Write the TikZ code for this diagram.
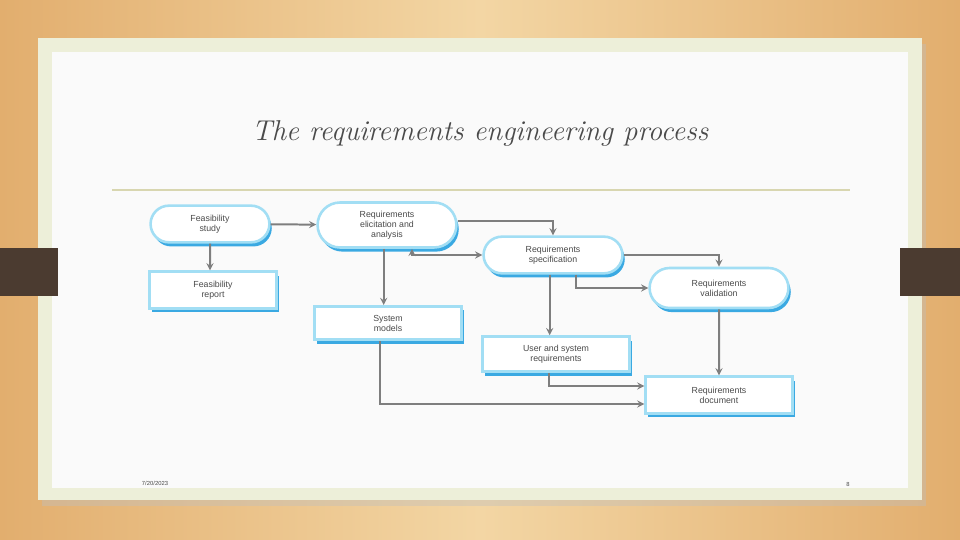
\documentclass[tikz,border=0pt]{standalone}
\usepackage{fontspec}
\newfontfamily\boxfont{Liberation Sans}
\usetikzlibrary{shapes.misc, shadows, arrows, positioning}
\definecolor{woodlight}{HTML}{F3D6A4}
\definecolor{wooddark}{HTML}{E2AE6E}
\definecolor{panelrim}{HTML}{EDEFD9}
\definecolor{panelbg}{HTML}{FAFAFA}
\definecolor{tabbrown}{HTML}{4B3B30}
\definecolor{rulecol}{HTML}{D8D6B0}
\definecolor{rimblue}{HTML}{A2DEF4}
\definecolor{shadeblue}{HTML}{3AA9E2}
\definecolor{linegray}{HTML}{7E7E7E}
\definecolor{textgray}{HTML}{4A4A4A}
\tikzset{
    activity/.style={rounded rectangle, minimum width=4.4cm, minimum height=1.1cm, align=center, draw=rimblue, line width=2.2pt, fill=white, general shadow={shadow xshift=2pt, shadow yshift=-3.5pt, fill=shadeblue}, text=textgray, font=\boxfont\fontsize{7.5}{8.5}\selectfont},
    document/.style={rectangle, minimum width=4.4cm, minimum height=1.1cm, align=center, draw=rimblue, line width=2.2pt, fill=white, general shadow={shadow xshift=2pt, shadow yshift=-3.5pt, fill=shadeblue}, text=textgray, font=\boxfont\fontsize{7.5}{8.5}\selectfont},
    arrow/.style={line width=1.7pt, -{stealth}, >=stealth, draw=linegray}
}

\begin{document}
\begin{tikzpicture}[x=0.03cm, y=-0.03cm]
    % slide background
    \shade[left color=wooddark, right color=wooddark, middle color=woodlight] (0,0) rectangle (960,540);
    \fill[black!25, opacity=0.4] (42,44) rectangle (926,506);
    \fill[panelrim] (38,38) rectangle (922,500);
    \fill[panelbg] (52,52) rectangle (908,488);
    \fill[tabbrown] (0,248) rectangle (58,296);
    \fill[tabbrown] (900,248) rectangle (960,296);

    \node (title) at (480,133) [text=textgray, font=\fontsize{24.5}{28}\selectfont\itshape] {The requirements engineering process};
    \draw[rulecol, line width=1.4pt] (112,190) -- (850,190);

    \node (feas) at (210,224) [activity, minimum width=3.8cm] {Feasibility\\study};
    \node (report) at (213,290) [document, minimum width=3.8cm] {Feasibility\\report};
    \node (elicit) at (387,225) [activity, minimum height=1.35cm] {Requirements\\elicitation and\\analysis};
    \node (models) at (388,323) [document, minimum height=1.0cm] {System\\models};
    \node (spec) at (553,255) [activity] {Requirements\\specification};
    \node (userreq) at (556,354) [document, minimum height=1.05cm] {User and system\\requirements};
    \node (valid) at (719,288) [activity, minimum height=1.2cm] {Requirements\\validation};
    \node (doc) at (719,395) [document] {Requirements\\document};

    \node (date) at (155,483) [text=textgray, font=\boxfont\fontsize{5}{6}\selectfont] {7/20/2023};
    \node (page) at (848,484) [text=textgray, font=\boxfont\fontsize{5}{6}\selectfont] {8};

    \draw [arrow] (feas) -- (feas |- report.north);
    \draw [arrow] (feas) -- (elicit);
    \draw [arrow] ([xshift=-0.1cm]elicit.south) -- ([xshift=-0.1cm]elicit.south |- models.north);
    \draw [arrow] ([yshift=0.12cm]elicit.east) -| (spec.north);
    \draw [arrow, {stealth}-{stealth}] ([xshift=0.75cm]elicit.south) |- (spec.west);
    \draw [arrow] (spec.east) -| (valid.north);
    \draw [arrow] ([xshift=0.7cm]spec.south) |- (valid.west);
    \draw [arrow] ([xshift=-0.1cm]spec.south) -- ([xshift=-0.1cm]spec.south |- userreq.north);
    \draw [arrow] (valid) -- (doc);
    \draw [arrow] ([xshift=-0.2cm]userreq.south) |- ([yshift=0.27cm]doc.west);
    \draw [arrow] ([xshift=-0.25cm]models.south) |- ([yshift=-0.27cm]doc.west);
\end{tikzpicture}
\end{document}
